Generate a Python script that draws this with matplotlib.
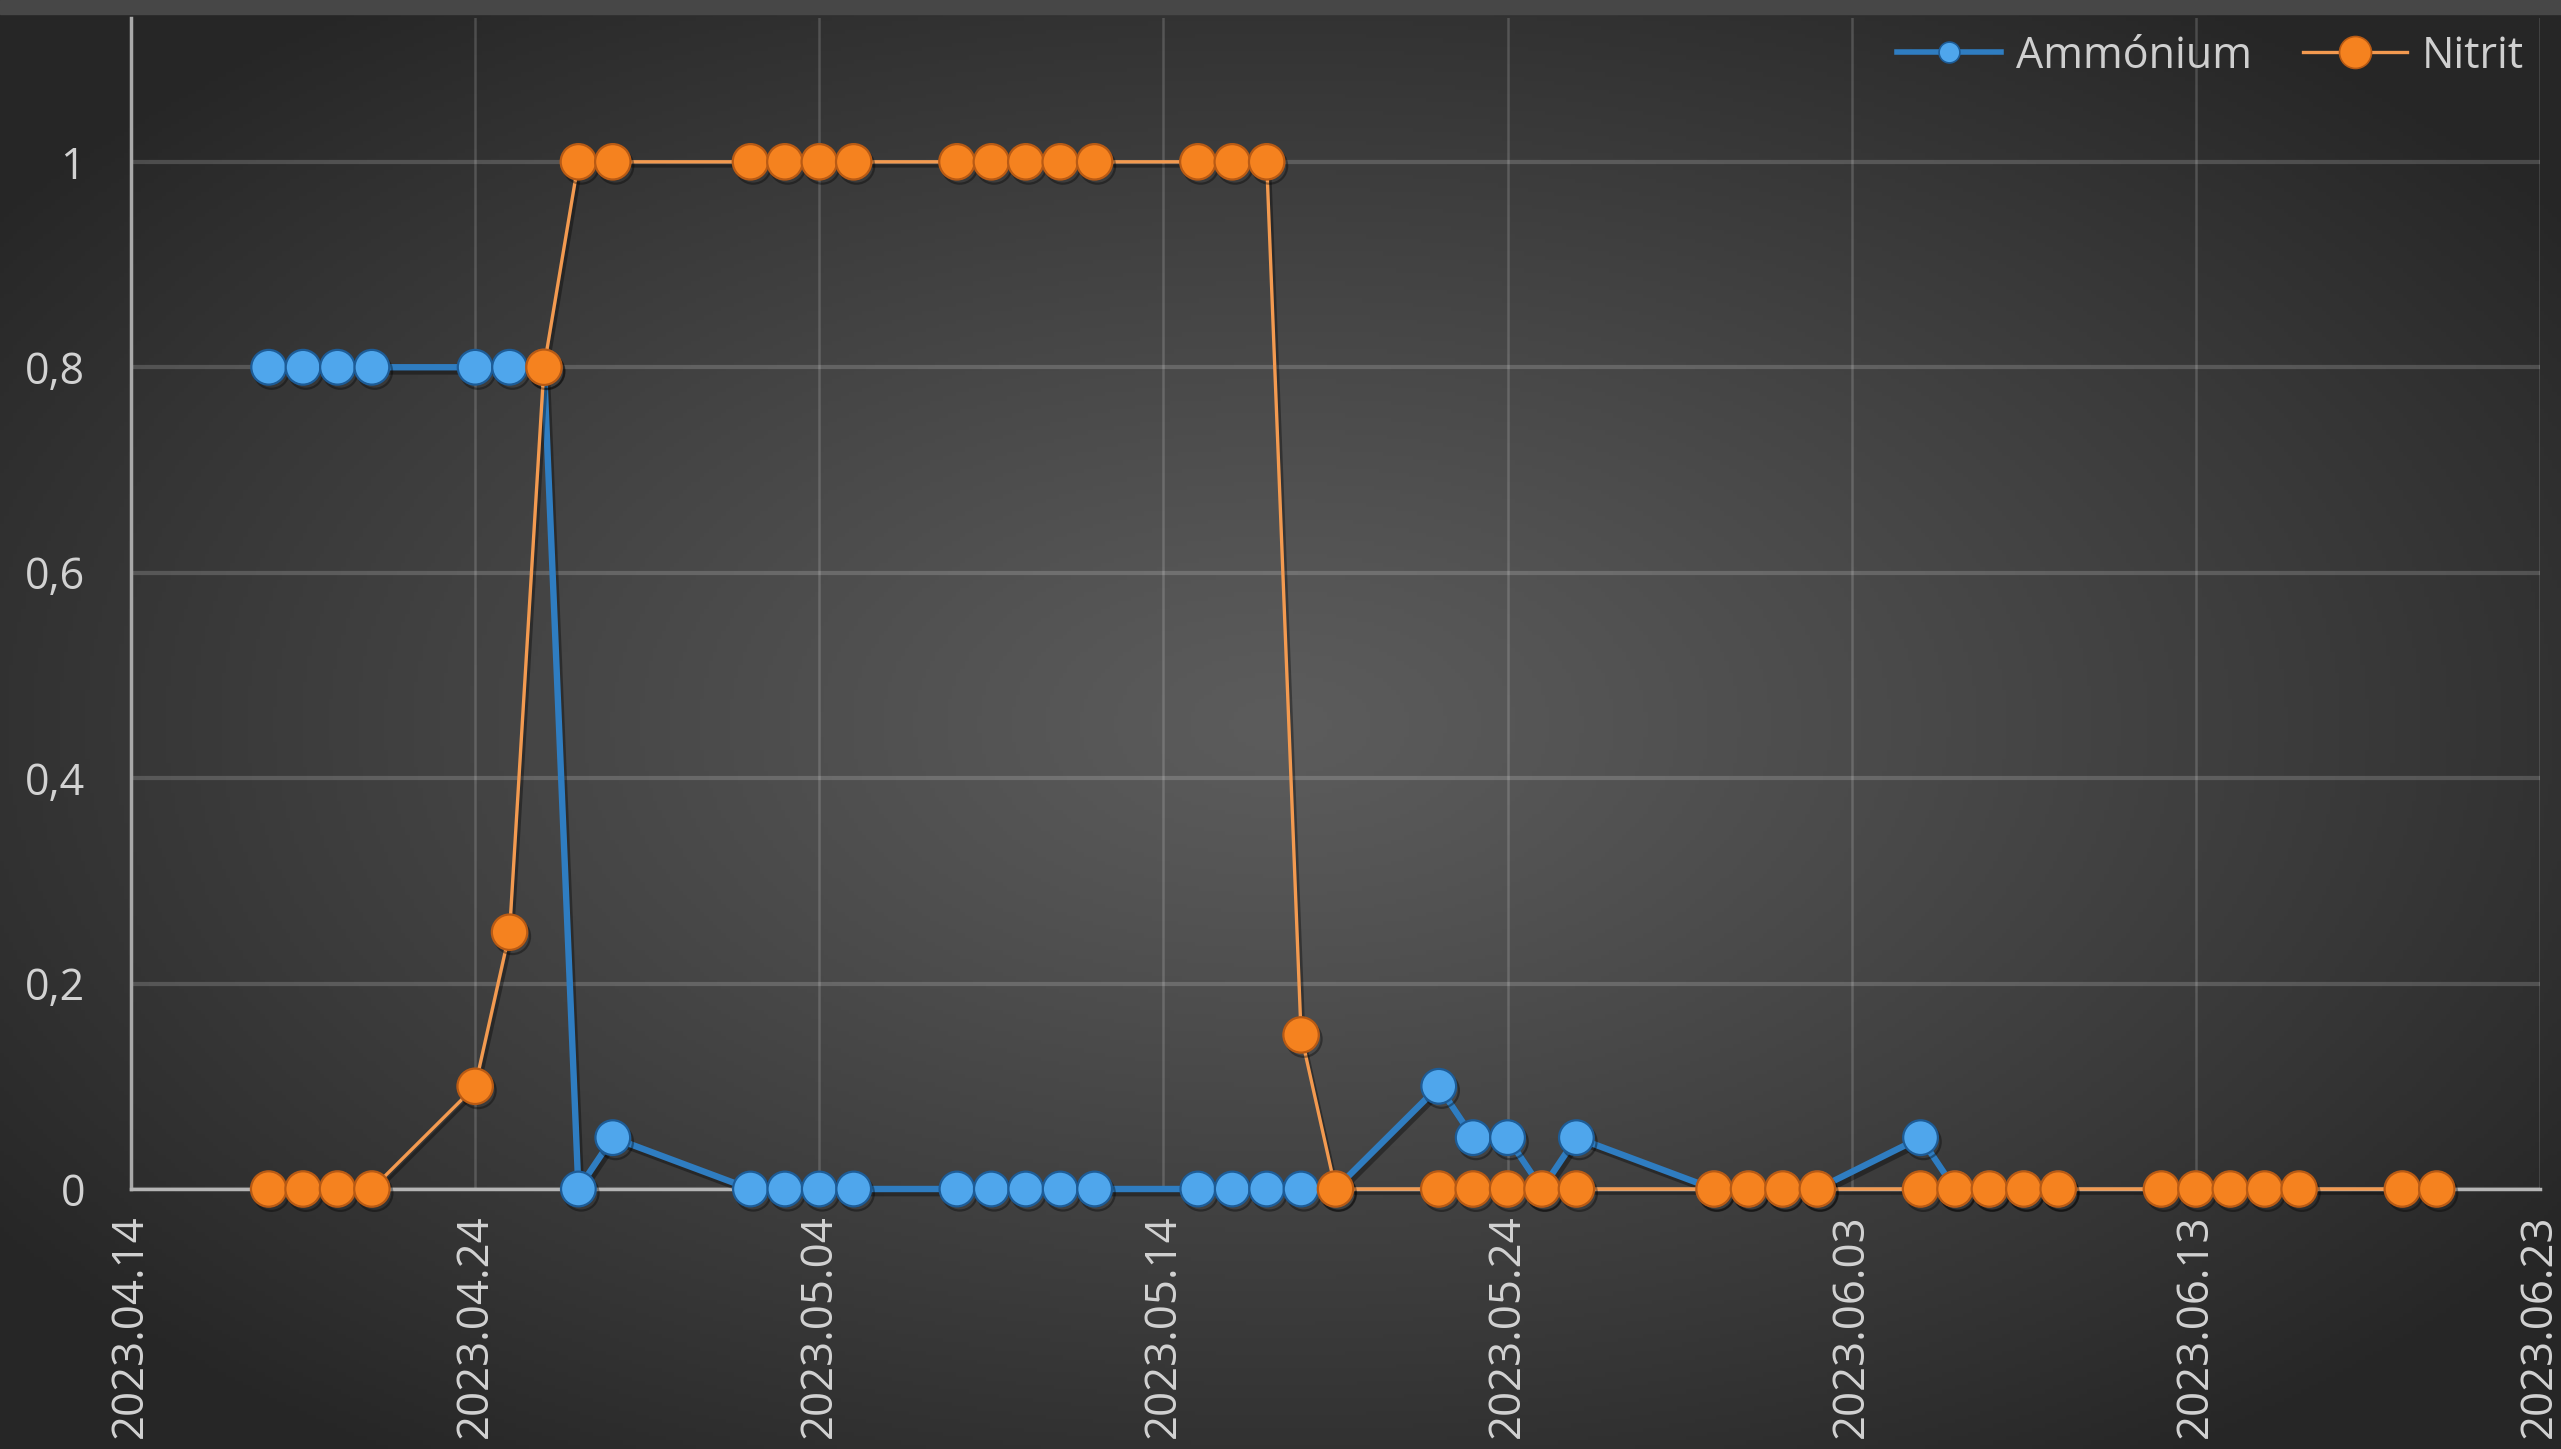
import numpy as np
import pandas as pd
import matplotlib
matplotlib.use("Agg")
import matplotlib.pyplot as plt
import matplotlib.patheffects as pe
import matplotlib.dates as mdates
from matplotlib.lines import Line2D
from matplotlib.ticker import FuncFormatter

# ---------------------------------------------------------
# DATA
# ---------------------------------------------------------

ammonium_dates = [
    "2023-04-18", "2023-04-19", "2023-04-20", "2023-04-21",
    "2023-04-24", "2023-04-25", "2023-04-26", "2023-04-27", "2023-04-28",
    "2023-05-02", "2023-05-03", "2023-05-04", "2023-05-05",
    "2023-05-08", "2023-05-09", "2023-05-10", "2023-05-11", "2023-05-12",
    "2023-05-15", "2023-05-16", "2023-05-17", "2023-05-18", "2023-05-19",
    "2023-05-22", "2023-05-23", "2023-05-24", "2023-05-25", "2023-05-26",
    "2023-05-30", "2023-05-31", "2023-06-01", "2023-06-02",
    "2023-06-05", "2023-06-06", "2023-06-07", "2023-06-08", "2023-06-09",
]
ammonium_values = [
    0.8, 0.8, 0.8, 0.8,
    0.8, 0.8, 0.8, 0.0, 0.05,
    0.0, 0.0, 0.0, 0.0,
    0.0, 0.0, 0.0, 0.0, 0.0,
    0.0, 0.0, 0.0, 0.0, 0.0,
    0.1, 0.05, 0.05, 0.0, 0.05,
    0.0, 0.0, 0.0, 0.0,
    0.05, 0.0, 0.0, 0.0, 0.0,
]

nitrit_dates = [
    "2023-04-18", "2023-04-19", "2023-04-20", "2023-04-21",
    "2023-04-24", "2023-04-25", "2023-04-26", "2023-04-27", "2023-04-28",
    "2023-05-02", "2023-05-03", "2023-05-04", "2023-05-05",
    "2023-05-08", "2023-05-09", "2023-05-10", "2023-05-11", "2023-05-12",
    "2023-05-15", "2023-05-16", "2023-05-17", "2023-05-18", "2023-05-19",
    "2023-05-22", "2023-05-23", "2023-05-24", "2023-05-25", "2023-05-26",
    "2023-05-30", "2023-05-31", "2023-06-01", "2023-06-02",
    "2023-06-05", "2023-06-06", "2023-06-07", "2023-06-08", "2023-06-09",
    "2023-06-12", "2023-06-13", "2023-06-14", "2023-06-15", "2023-06-16",
    "2023-06-19", "2023-06-20",
]
nitrit_values = [
    0.0, 0.0, 0.0, 0.0,
    0.1, 0.25, 0.8, 1.0, 1.0,
    1.0, 1.0, 1.0, 1.0,
    1.0, 1.0, 1.0, 1.0, 1.0,
    1.0, 1.0, 1.0, 0.15, 0.0,
    0.0, 0.0, 0.0, 0.0, 0.0,
    0.0, 0.0, 0.0, 0.0,
    0.0, 0.0, 0.0, 0.0, 0.0,
    0.0, 0.0, 0.0, 0.0, 0.0,
    0.0, 0.0,
]

x_ticks = pd.date_range("2023-04-14", "2023-06-23", freq="10D")
y_ticks = [0, 0.2, 0.4, 0.6, 0.8, 1.0]
series_labels = ["Ammónium", "Nitrit"]

# ---------------------------------------------------------
# FIGURE + GRADIENT BACKGROUND
# ---------------------------------------------------------

plt.rcParams["font.family"] = ["Open Sans", "DejaVu Sans"]

W, H, DPI = 2561, 1449, 100
fig = plt.figure(figsize=(W / DPI, H / DPI), dpi=DPI)

bg = fig.add_axes([0, 0, 1, 1], zorder=-10)
gx, gy = np.meshgrid(np.linspace(0, 1, 600), np.linspace(0, 1, 340))
r = np.sqrt(((gx - 0.5) / 0.62) ** 2 + ((gy - 0.5) / 0.62) ** 2)
shade = (92 - 54 * np.clip(r, 0, 1) ** 1.15) / 255.0
bg.imshow(np.dstack([shade, shade, shade]), extent=[0, 1, 0, 1],
          aspect="auto", origin="lower")
bg.axis("off")

# thin lighter band along the top edge
fig.patches.append(plt.Rectangle((0, 1 - 14 / H), 1, 14 / H,
                                 transform=fig.transFigure,
                                 color="#474747", zorder=-5))

# ---------------------------------------------------------
# MAIN AXES
# ---------------------------------------------------------

left, right = 131 / W, 2540 / W
bottom, top = 1 - 1189 / H, 1 - 18 / H
ax = fig.add_axes([left, bottom, right - left, top - bottom])
ax.set_facecolor("none")

a_x = pd.to_datetime(ammonium_dates)
n_x = pd.to_datetime(nitrit_dates)

shadow = [pe.SimpleLineShadow(offset=(2, -3), shadow_color="black", alpha=0.35),
          pe.Normal()]

ax.plot(a_x, ammonium_values, color="#2f7dc1", lw=4.6,
        marker="o", ms=25, mfc="#4fa6ec", mec="#1d5c97", mew=1.6,
        clip_on=False, zorder=3, path_effects=shadow)
ax.plot(n_x, nitrit_values, color="#f39a50", lw=2.4,
        marker="o", ms=25.5, mfc="#f5821f", mec="#b85a14", mew=1.6,
        clip_on=False, zorder=4, path_effects=shadow)

ax.set_xlim(x_ticks[0], x_ticks[-1])
ax.set_ylim(0, 1.14)
ax.set_xticks(x_ticks)
ax.set_yticks(y_ticks)
ax.xaxis.set_major_formatter(mdates.DateFormatter("%Y.%m.%d"))
ax.yaxis.set_major_formatter(FuncFormatter(lambda v, _: f"{v:g}".replace(".", ",")))

ax.tick_params(axis="x", length=0, pad=18, labelsize=31.5, labelcolor="#d2d2d2",
               labelrotation=90)
ax.tick_params(axis="y", length=0, pad=33, labelsize=31, labelcolor="#d2d2d2")

ax.yaxis.grid(True, color="white", alpha=0.17, lw=3)
ax.xaxis.grid(True, color="white", alpha=0.17, lw=1.8)
ax.set_axisbelow(True)

for s in ["top", "right"]:
    ax.spines[s].set_visible(False)
ax.spines["left"].set_color("#a9a9a9")
ax.spines["left"].set_linewidth(2.5)
ax.spines["bottom"].set_color("#b5b5b5")
ax.spines["bottom"].set_linewidth(2.5)

# ---------------------------------------------------------
# LEGEND
# ---------------------------------------------------------

handles = [
    Line2D([], [], color="#2f7dc1", lw=4.0, marker="o", ms=15,
           mfc="#4fa6ec", mec="#1d5c97", mew=1.2),
    Line2D([], [], color="#f39a50", lw=2.4, marker="o", ms=23,
           mfc="#f5821f", mec="#b85a14", mew=1.2),
]
fig.legend(handles, series_labels, loc="upper right",
           bbox_to_anchor=(2524 / W, 1 - 34 / H), ncol=2, frameon=False,
           fontsize=31, labelcolor="#cfcfcf", handlelength=2.4,
           handletextpad=0.35, columnspacing=1.2, borderpad=0,
           borderaxespad=0)

fig.savefig("out.png", dpi=DPI)
